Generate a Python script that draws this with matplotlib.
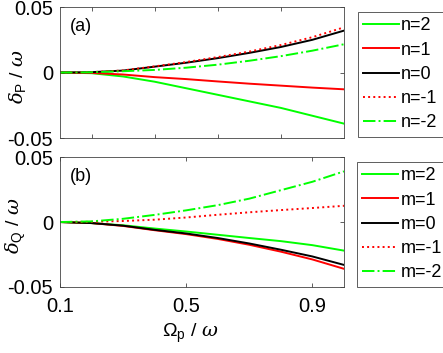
import matplotlib

matplotlib.use("Agg")

import matplotlib.pyplot as plt

plt.rcParams["font.family"] = ["Liberation Sans", "DejaVu Sans"]
plt.rcParams["mathtext.fontset"] = "custom"
plt.rcParams["mathtext.rm"] = "Liberation Sans"
plt.rcParams["mathtext.it"] = "DejaVu Serif:italic"

x = [0.1, 0.2, 0.3, 0.4, 0.5, 0.6, 0.7, 0.8, 0.9, 1.0]

# panel (a): delta_P / omega
p_n2 = [0, -0.0005, -0.003, -0.007, -0.012, -0.017, -0.022, -0.027, -0.033, -0.039]
p_n1 = [0, -0.0003, -0.0015, -0.0035, -0.005, -0.0068, -0.0085, -0.0100, -0.0115, -0.0128]
p_n0 = [0, 0.0003, 0.0015, 0.0045, 0.0075, 0.011, 0.015, 0.0195, 0.025, 0.032]
p_nm1 = [0, 0.0003, 0.0016, 0.0047, 0.008, 0.0118, 0.016, 0.021, 0.027, 0.0345]
p_nm2 = [0, 0.0002, 0.001, 0.002, 0.0037, 0.006, 0.009, 0.0125, 0.0167, 0.0216]

# panel (b): delta_Q / omega
q_m2 = [0, -0.0008, -0.0025, -0.005, -0.0073, -0.0098, -0.0123, -0.0147, -0.0178, -0.022]
q_m1 = [0, -0.0008, -0.003, -0.0063, -0.0093, -0.013, -0.0175, -0.0228, -0.0288, -0.036]
q_m0 = [0, -0.0008, -0.0028, -0.006, -0.0088, -0.0123, -0.0165, -0.0213, -0.0265, -0.033]
q_mm1 = [0, 0.0002, 0.0008, 0.0018, 0.0035, 0.0056, 0.0075, 0.0092, 0.0108, 0.0125]
q_mm2 = [0, 0.0005, 0.0025, 0.0055, 0.009, 0.013, 0.018, 0.0245, 0.031, 0.039]

styles = [("#00ff00", "-"), ("#ff0000", "-"), ("black", "-"), ("#ff0000", ":"), ("#00ff00", "-.")]

fig = plt.figure(figsize=(4.43, 3.53), dpi=100)
ax_a = fig.add_axes([0.1354, 0.609, 0.641, 0.371])
ax_b = fig.add_axes([0.1354, 0.187, 0.641, 0.368])

panels = [
    (ax_a, [p_n2, p_n1, p_n0, p_nm1, p_nm2], "n", [2, 1, 0, -1, -2], "(a)", r"$\delta_{\rm P}$ / $\omega$"),
    (ax_b, [q_m2, q_m1, q_m0, q_mm1, q_mm2], "m", [2, 1, 0, -1, -2], "(b)", r"$\delta_{\rm Q}$ / $\omega$"),
]
legend_pos = [(0.808, 0.966), (0.806, 0.541)]

for (ax, series, sym, idx, tag, ylab), pos in zip(panels, legend_pos):
    for ys, (color, ls), k in zip(series, styles, idx):
        ax.plot(x, ys, color=color, linestyle=ls, linewidth=1.4, label=f"{sym}={k}")
    ax.set_xlim(0.1, 1.0)
    ax.set_ylim(-0.05, 0.05)
    ax.set_yticks([-0.05, 0, 0.05])
    ax.set_yticklabels(["-0.05", "0", "0.05"])
    ax.tick_params(direction="in", top=True, right=True, labelsize=14.5, length=3,
                   width=0.6, color="#444444")
    ax.tick_params(axis="y", pad=5)
    ax.tick_params(axis="x", pad=7)
    for spine in ax.spines.values():
        spine.set_color("#444444")
        spine.set_linewidth(0.6)
    ax.text(0.035, 0.915, tag, transform=ax.transAxes, fontsize=13, va="top")
    ax.set_ylabel(ylab, fontsize=14)
    ax.yaxis.set_label_coords(-0.113, 0.47)
    leg = ax.legend(loc="upper left", bbox_to_anchor=pos, bbox_transform=fig.transFigure,
                    borderaxespad=0, fontsize=13, handlelength=1.95, handletextpad=0.15,
                    borderpad=0.3, labelspacing=0.4, fancybox=False, framealpha=1)
    leg.get_frame().set_edgecolor("#444444")
    leg.get_frame().set_linewidth(0.6)

ax_a.set_xticks([0.2, 0.4, 0.6, 0.8])
ax_a.set_xticklabels([])
ax_b.set_xticks([0.1, 0.5, 0.9])
ax_b.set_xticklabels(["0.1", "0.5", "0.9"])
ax_b.set_xlabel(r"$\Omega_{\rm p}$ / $\omega$", fontsize=14)
ax_b.xaxis.set_label_coords(0.46, -0.27)

fig.savefig("out.png", dpi=100)
